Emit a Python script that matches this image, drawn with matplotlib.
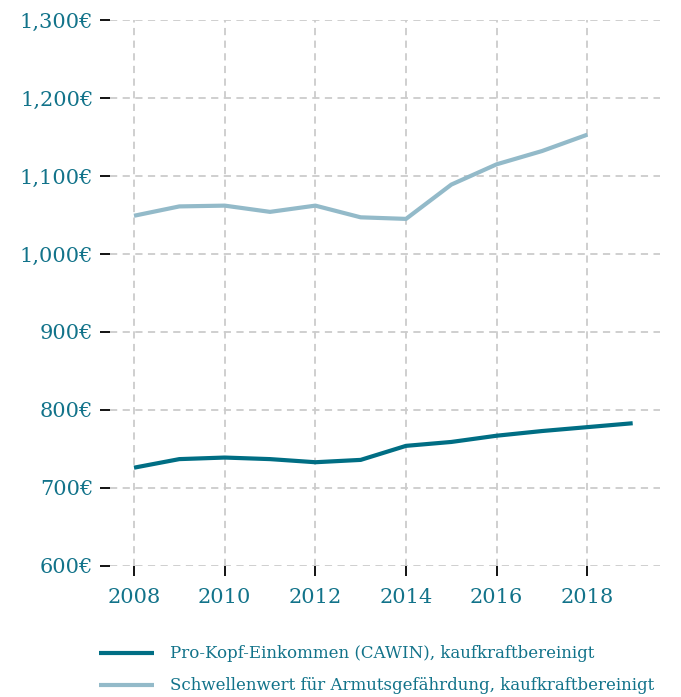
import numpy as np
import matplotlib.pyplot as plt
from matplotlib.ticker import FuncFormatter

# data
years = [2008, 2009, 2010, 2011, 2012, 2013, 2014, 2015, 2016, 2017, 2018, 2019]
einkommen = [726, 737, 739, 737, 733, 736, 754, 759, 767, 773, 778, 783]
years_schwelle = [2008, 2009, 2010, 2011, 2012, 2013, 2014, 2015, 2016, 2017, 2018]
schwelle = [1049, 1061, 1062, 1054, 1062, 1047, 1045, 1089, 1115, 1132, 1153]
labels = ['Pro-Kopf-Einkommen (CAWIN), kaufkraftbereinigt',
          'Schwellenwert für Armutsgefährdung, kaufkraftbereinigt']

teal = '#006e84'
light = '#93bac9'
txt = '#12738a'

plt.rcParams['font.family'] = ['DejaVu Serif']

fig = plt.figure(figsize=(6.81, 6.97), dpi=100)
ax = fig.add_axes([0.1615, 0.188, 0.8075, 0.7833])

l1, = ax.plot(years, einkommen, color=teal, lw=3.0, solid_capstyle='butt')
l2, = ax.plot(years_schwelle, schwelle, color=light, lw=3.0, solid_capstyle='butt')

ax.set_xlim(2007.47, 2019.6)
ax.set_ylim(600, 1300)
ax.set_xticks(np.arange(2008, 2019, 2))
ax.set_yticks(np.arange(600, 1301, 100))
ax.yaxis.set_major_formatter(FuncFormatter(lambda v, p: '{:,.0f}€'.format(v)))

for s in ax.spines.values():
    s.set_visible(False)
ax.grid(True, color='#cccccc', linestyle=(0, (4, 3)), lw=1.3)
ax.set_axisbelow(True)
ax.tick_params(axis='both', direction='out', length=7, width=1.3, color='black',
               labelcolor=txt, labelsize=15)
ax.tick_params(axis='y', pad=5)
ax.tick_params(axis='x', pad=9)

fig.legend([l1, l2], labels, loc='upper left', bbox_to_anchor=(0.145, 0.074),
           frameon=False, fontsize=12, labelcolor=txt, handlelength=3.3,
           handletextpad=1.0, labelspacing=0.9, borderpad=0, borderaxespad=0)

plt.savefig('out.png', dpi=100)
